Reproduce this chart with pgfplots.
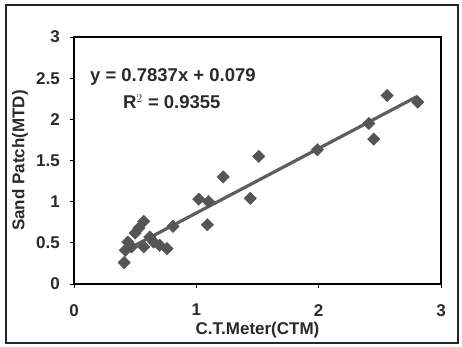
\documentclass[border=0pt]{standalone}
\usepackage{pgfplots}
\pgfplotsset{compat=1.18}
\usepackage{fontspec}
\setmainfont{Liberation Sans}
\definecolor{mk}{HTML}{555555}
\definecolor{ln}{HTML}{5E5E5E}
\definecolor{tx}{HTML}{2A2A2A}
\begin{document}
\begin{tikzpicture}[x=1pt,y=1pt]
\path[use as bounding box] (-74,-63) rectangle (388,284);
\begin{axis}[
  at={(0,0)}, anchor=south west,
  width=367pt, height=247pt, scale only axis,
  xmin=0, xmax=3, ymin=0, ymax=3,
  xtick={0,1,2,3}, ytick={0,0.5,1,1.5,2,2.5,3},
  tick pos=left, tick align=outside, major tick length=4pt,
  axis line style={black, line width=1.1pt},
  every tick/.style={black, line width=0.8pt},
  /pgf/number format/assume math mode=true,
  ticklabel style={font=\fontsize{17}{20}\selectfont\bfseries, text=tx},
  yticklabel style={inner sep=0pt, xshift=-10pt},
  xticklabel style={inner sep=0pt, yshift=-16pt},
  xlabel={C.T.Meter(CTM)}, ylabel={Sand Patch(MTD)},
  label style={font=\fontsize{17}{20}\selectfont\bfseries, text=tx, inner sep=0pt},
  xlabel style={at={(axis description cs:0.5,0)}, anchor=center, yshift=-46pt},
  ylabel style={at={(axis description cs:0,0.5)}, anchor=center, yshift=54pt},
  clip=false,
]
\addplot[only marks, mark=square*, mark size=4.4pt, mark options={rotate=45, fill=mk, draw=mk}]
coordinates {
(0.41,0.26) (2.56,2.29) (2.81,2.21) (2.41,1.95) (2.45,1.76) (1.99,1.63)
(1.51,1.55) (1.22,1.30) (1.44,1.04) (1.02,1.03) (1.10,1.00) (1.09,0.72)
(0.81,0.70) (0.57,0.76) (0.53,0.68) (0.50,0.62) (0.44,0.51) (0.47,0.45)
(0.57,0.45) (0.65,0.51) (0.70,0.47) (0.76,0.43) (0.42,0.41) (0.62,0.57)
};
\addplot[ln, line width=3.2pt] coordinates {(0.42,0.408) (2.81,2.281)};
\node[anchor=west, inner sep=0pt, text=tx, font=\fontsize{18.5}{21}\selectfont\bfseries] at (axis cs:0.13,2.515) {y = 0.7837x + 0.079};
\node[anchor=west, inner sep=0pt, text=tx, font=\fontsize{18.5}{21}\selectfont\bfseries] at (axis cs:0.40,2.21) {R$^{2}$ = 0.9355};
\end{axis}
\draw[line width=1.8pt, black!85] (-68,-59) rectangle (384,279);
\end{tikzpicture}
\end{document}
